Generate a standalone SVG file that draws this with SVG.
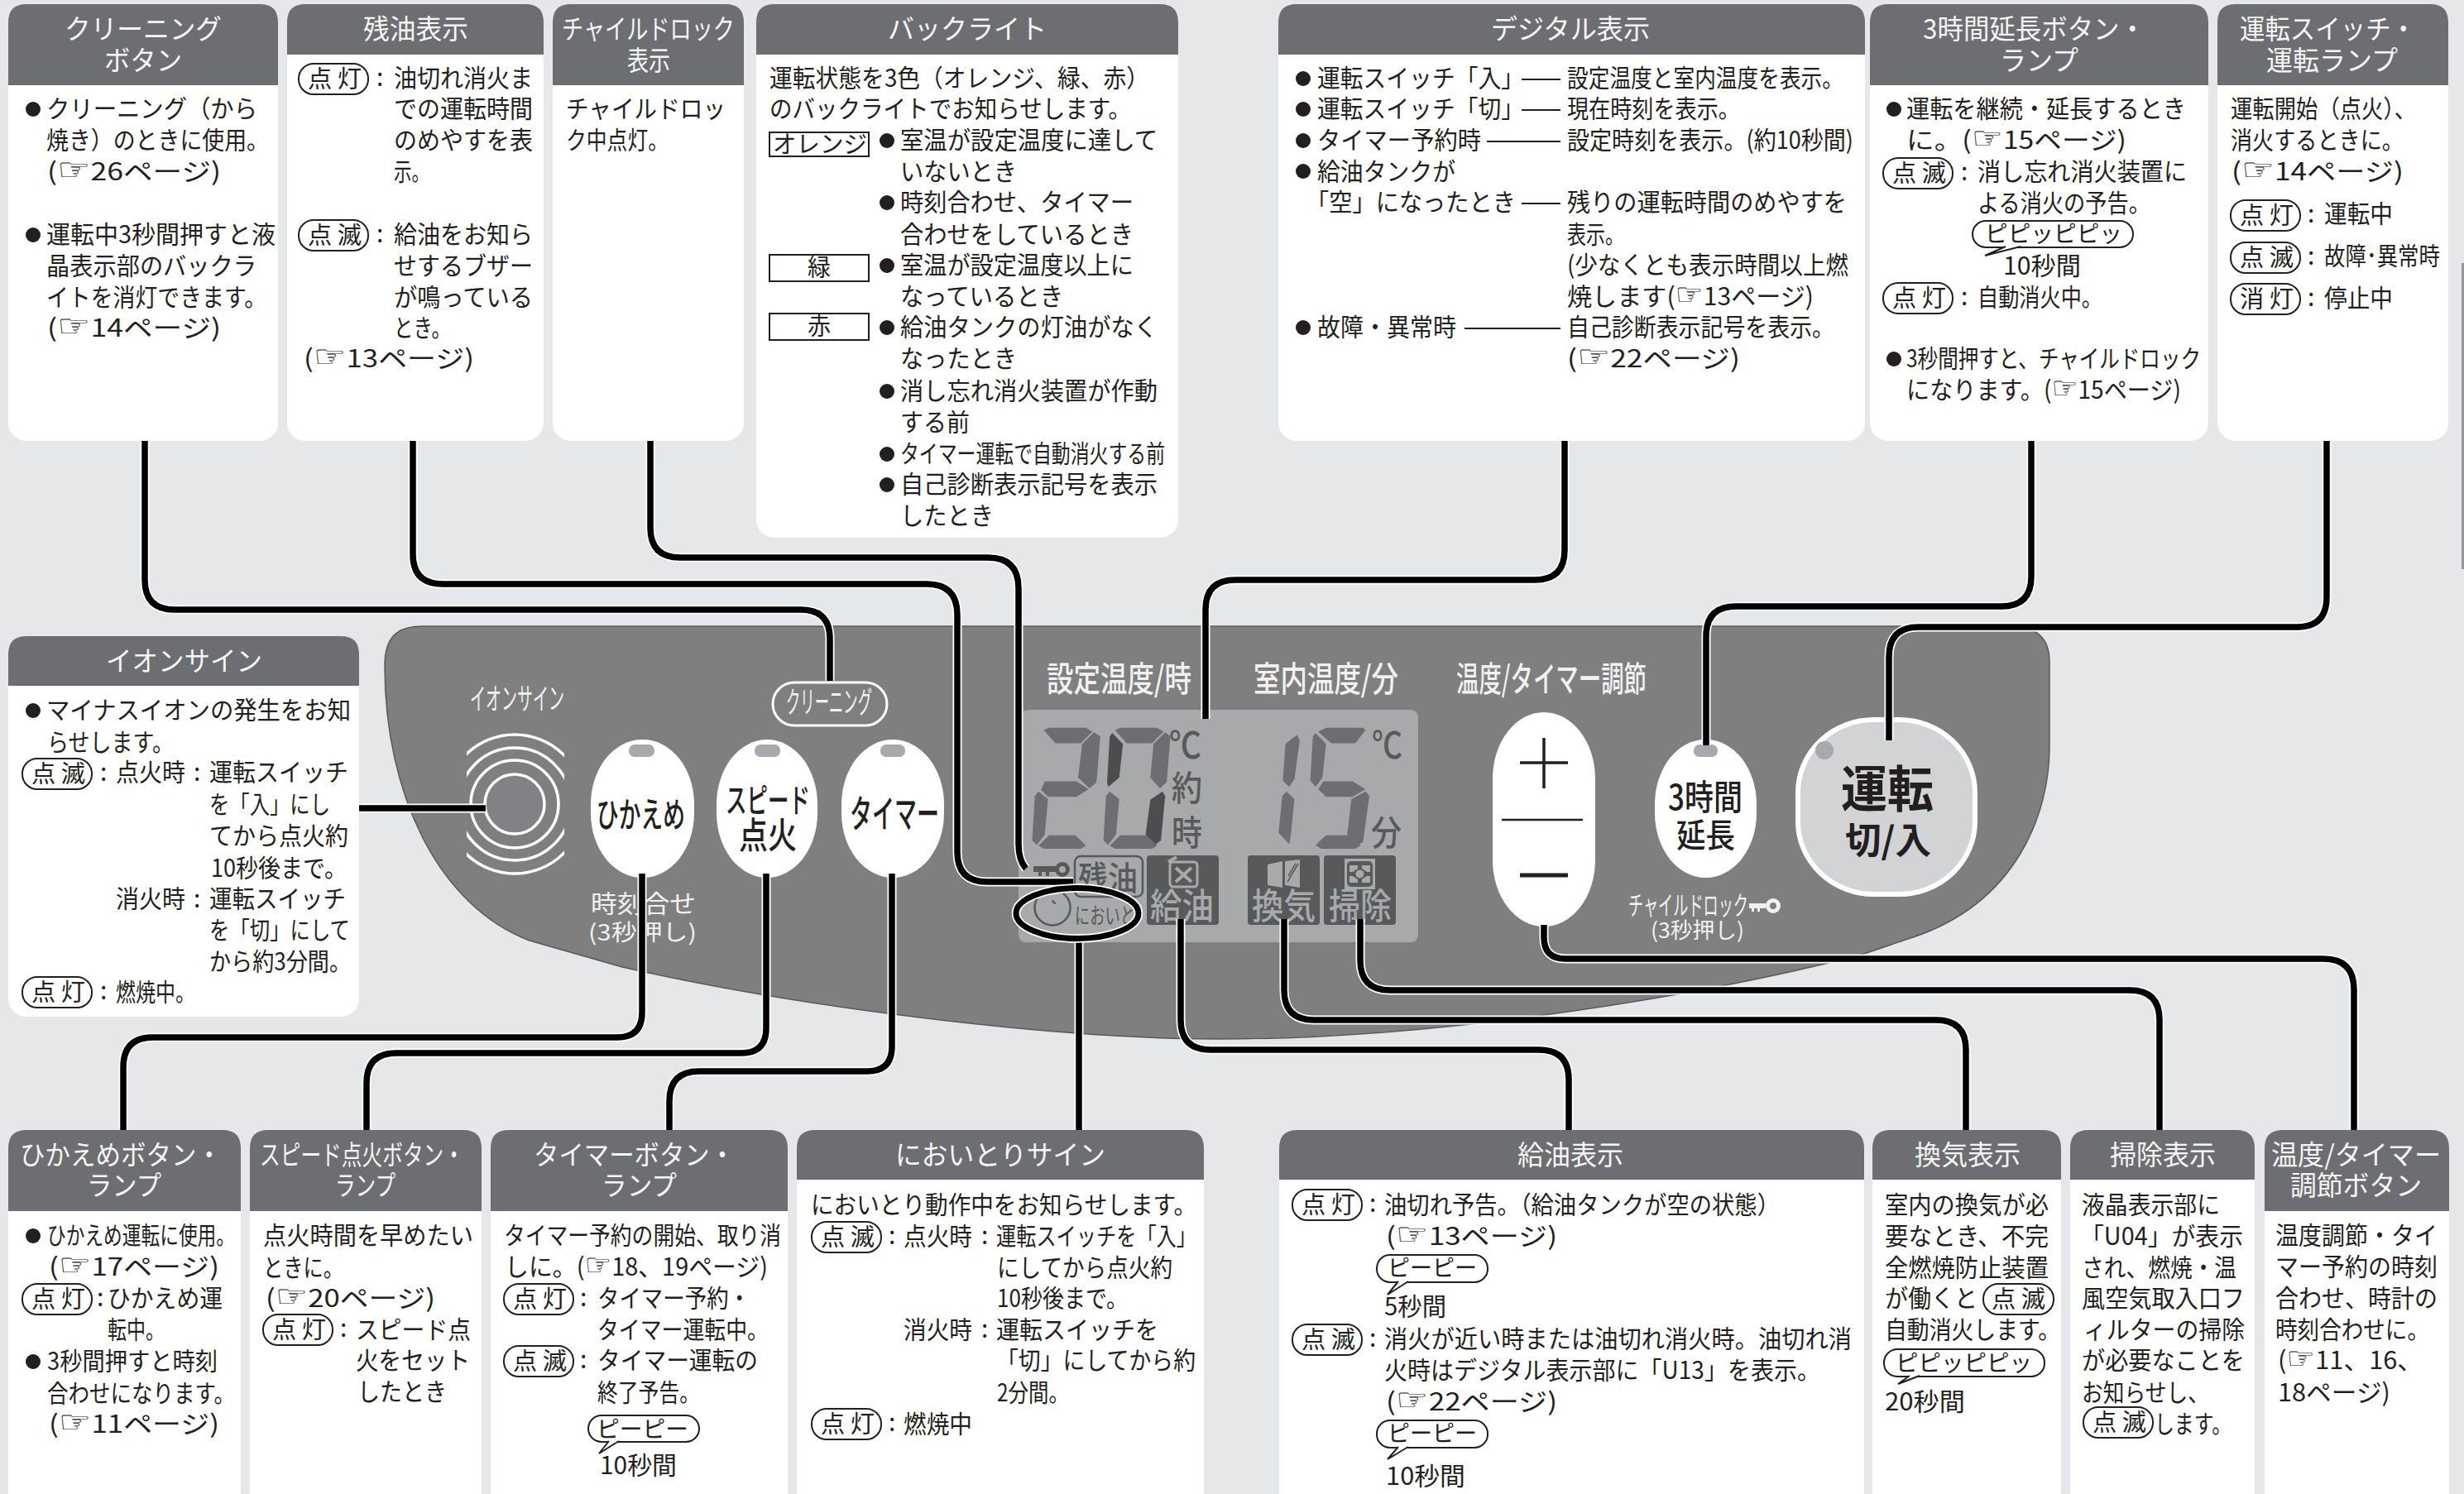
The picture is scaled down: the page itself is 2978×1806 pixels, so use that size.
<svg xmlns="http://www.w3.org/2000/svg" width="2978" height="1806" viewBox="0 0 2978 1806">
<style>
text{font-family:"Noto Sans CJK JP","Noto Sans",sans-serif;fill:#231f20}
.b{font-size:30px;transform:translateY(-1.5px)}
.hd{font-size:38px;font-family:"DejaVu Sans",sans-serif}
.p{font-size:29px}
.s{font-size:28px}
.h{font-size:33px;fill:#f5f5f5}
.w{fill:#f1f1f2}
.bt{font-weight:500}
.lc{fill:#58595b;font-weight:500}
.li{fill:#a7a9ab;font-weight:500}
.pill{fill:#fff;stroke:#231f20;stroke-width:2}
.box{fill:#fff;stroke:#231f20;stroke-width:2}
.dash{stroke:#231f20;stroke-width:2;fill:none}
.tail{fill:#fff;stroke:#231f20;stroke-width:2}
.card{fill:#fff}
.head{fill:#6d6e71}
.btn{fill:#fff}
.lamp{fill:#a7a9ac}
.seg{fill:#6d6e71}
.segd{fill:#4d4d4f}
.ring{fill:none;stroke:#fff;stroke-width:3.5}
.ch{fill:none;stroke:#fff;stroke-width:11}
.cb{fill:none;stroke:#000;stroke-width:7.5}
.dk{fill:#58595b}
.ic{fill:none;stroke:#a7a9ab;stroke-width:3}
.icf{fill:#a7a9ab}
</style>
<defs>
<clipPath id="ionclip"><rect x="564" y="880" width="118" height="190"/></clipPath>
<path id="c1" d="M175,533V701Q175,737 211,737H968Q1003,737 1003,772V823"/>
<path id="c2" d="M499,533V670Q499,706 535,706H1120Q1157,706 1157,743V1030Q1157,1066 1193,1066H1297"/>
<path id="c3" d="M786,533V638Q786,674 822,674H1194Q1231,674 1231,711V1020Q1231,1040 1240,1050"/>
<path id="c4" d="M1891,533V665Q1891,701 1855,701H1493Q1457,701 1457,737V869"/>
<path id="c5" d="M2455,533V697Q2455,733 2419,733H2098Q2062,733 2062,769V901"/>
<path id="c6" d="M2812,533V722Q2812,758 2776,758H2319Q2283,758 2283,794V895"/>
<path id="c7" d="M434,977H587"/>
<path id="c8" d="M776,1056V1224Q776,1254 746,1254H185Q149,1254 149,1290V1366"/>
<path id="c9" d="M926,1056V1243Q926,1273 896,1273H479Q443,1273 443,1309V1366"/>
<path id="c10" d="M1078,1056V1265Q1078,1295 1048,1295H845Q809,1295 809,1331V1366"/>
<path id="c11" d="M1304,1138V1366"/>
<path id="c12" d="M1427,1111V1233Q1427,1269 1463,1269H1860Q1896,1269 1896,1305V1366"/>
<path id="c13" d="M1552,1111V1197Q1552,1233 1588,1233H2340Q2376,1233 2376,1269V1366"/>
<path id="c14" d="M1644,1111V1161Q1644,1197 1680,1197H2574Q2610,1197 2610,1233V1366"/>
<path id="c15" d="M1866,1118V1133Q1866,1159 1892,1159H2808Q2845,1159 2845,1196V1366"/>
</defs>
<rect width="2978" height="1806" fill="#e6e7e9"/>
<rect x="2975" y="318" width="3" height="370" fill="#939598"/>
<g id="body">
<path d="M465,805C465,770 480,757 510,757H2430C2465,757 2477,775 2477,800V903C2477,980 2440,1090 2312,1133L2250,1154C2080,1198 1760,1256 1472,1256C1300,1256 1000,1225 752,1169L640,1137C530,1095 465,960 465,805Z" fill="#7f7f7f" stroke="#58595b" stroke-width="1.5"/>
<text class="w" style="font-size:36px" x="568" y="858" textLength="114" lengthAdjust="spacingAndGlyphs">イオンサイン</text>
<g id="ion-sign"><circle cx="622" cy="972" r="36" fill="#808285" stroke="#fff" stroke-width="3.5"/>
<g clip-path="url(#ionclip)"><circle class="ring" cx="622" cy="972" r="53"/><circle class="ring" cx="622" cy="972" r="68"/><circle class="ring" cx="622" cy="972" r="84"/></g></g>
<g id="cleaning-btn"><rect x="934" y="825" width="138" height="52" rx="26" fill="none" stroke="#fff" stroke-width="3"/>
<text class="w" style="font-size:36px" x="950" y="862" textLength="104" lengthAdjust="spacingAndGlyphs">クリーニング</text></g>
<g id="hikaeme-btn"><rect class="btn" x="714" y="894" width="125" height="167" rx="62" ry="78"/><rect class="lamp" x="760" y="900" width="31" height="15" rx="7"/>
<text class="bt" style="font-size:42px" x="721" y="1000" textLength="107" lengthAdjust="spacingAndGlyphs">ひかえめ</text></g>
<text class="w" style="font-size:30px" x="714" y="1103" textLength="127" lengthAdjust="spacingAndGlyphs">時刻合せ</text>
<text class="w" style="font-size:27px" x="711" y="1137" textLength="131" lengthAdjust="spacingAndGlyphs">(3秒押し)</text>
<g id="speed-btn"><rect class="btn" x="866" y="894" width="122" height="167" rx="61" ry="78"/><rect class="lamp" x="912" y="900" width="31" height="15" rx="7"/>
<text class="bt" style="font-size:40px" x="877" y="982" textLength="102" lengthAdjust="spacingAndGlyphs">スピード</text>
<text class="bt" style="font-size:44px" x="893" y="1026" textLength="70" lengthAdjust="spacingAndGlyphs">点火</text></g>
<g id="timer-btn"><rect class="btn" x="1017" y="894" width="124" height="167" rx="62" ry="78"/><rect class="lamp" x="1064" y="900" width="30" height="15" rx="7"/>
<text class="bt" style="font-size:46px" x="1027" y="1000" textLength="108" lengthAdjust="spacingAndGlyphs">タイマー</text></g>
<text class="w bt" style="font-size:42px" x="1265" y="836" textLength="175" lengthAdjust="spacingAndGlyphs">設定温度/時</text>
<text class="w bt" style="font-size:42px" x="1515" y="836" textLength="175" lengthAdjust="spacingAndGlyphs">室内温度/分</text>
<text class="w bt" style="font-size:42px" x="1760" y="836" textLength="230" lengthAdjust="spacingAndGlyphs">温度/タイマー調節</text>
<g id="lcd">
<path d="M1247,858H1704Q1714,858 1714,868V1129Q1714,1139 1704,1139H1241Q1231,1139 1231,1129V868Q1231,858 1247,858Z" fill="#a7a9ab"/>
<g transform="translate(1000,740) scale(.6378,.3704)">
<polygon class="seg" points="410,385 420,377 490,377 502,390 480,428 432,428"/>
<polygon class="seg" points="505,392 517,405 510,555 497,575 475,540 483,430"/>
<polygon class="seg" points="412,552 472,552 495,578 472,603 418,603 405,580"/>
<polygon class="seg" points="400,585 418,610 412,725 397,760 388,745 393,600"/>
<polygon class="seg" points="400,762 420,728 470,728 490,762 480,772 410,772"/>
<polygon class="seg" points="545,385 555,377 625,377 637,390 615,428 567,428"/>
<polygon class="segd" points="540,395 560,430 553,540 532,570 530,555 535,405"/>
<polygon class="seg" points="640,392 650,405 643,555 630,575 612,540 618,430"/>
<polygon class="seg" points="535,585 553,610 547,725 532,760 523,745 528,600"/>
<polygon class="segd" points="635,585 640,600 632,745 620,760 603,725 612,612"/>
<polygon class="seg" points="535,762 555,728 605,728 625,762 615,772 545,772"/>
<polygon class="seg" points="890,400 895,420 885,545 875,570 863,550 868,430"/>
<polygon class="seg" points="870,585 885,610 878,730 875,757 855,720 862,600"/>
<polygon class="seg" points="930,390 945,377 1015,377 1020,385 1000,428 955,428"/>
<polygon class="seg" points="925,395 945,430 938,540 925,570 915,550 920,405"/>
<polygon class="seg" points="940,552 995,552 1020,578 995,603 945,603 930,578"/>
<polygon class="seg" points="1020,585 1027,600 1015,750 1005,762 985,725 993,610"/>
<polygon class="seg" points="925,760 945,728 995,728 1010,762 1000,772 935,772"/>
</g>
<text class="lc" style="font-size:44px" x="1413" y="917" textLength="39" lengthAdjust="spacingAndGlyphs">℃</text>
<text class="lc" style="font-size:42px" x="1416" y="968" textLength="37" lengthAdjust="spacingAndGlyphs">約</text>
<text class="lc" style="font-size:42px" x="1416" y="1022" textLength="37" lengthAdjust="spacingAndGlyphs">時</text>
<text class="lc" style="font-size:44px" x="1658" y="917" textLength="37" lengthAdjust="spacingAndGlyphs">℃</text>
<text class="lc" style="font-size:42px" x="1657" y="1022" textLength="37" lengthAdjust="spacingAndGlyphs">分</text>
<g id="key-icon"><circle cx="1284" cy="1051" r="6.5" fill="none" stroke="#58595b" stroke-width="5"/><path d="M1249,1047H1277V1054H1268V1059H1264V1054H1259V1059H1255V1054H1249Z" class="dk"/></g>
<g id="zan-yu"><rect x="1299" y="1035" width="82" height="49" rx="7" fill="none" stroke="#58595b" stroke-width="2.5"/>
<text class="lc" style="font-size:40px" x="1303" y="1076" textLength="72" lengthAdjust="spacingAndGlyphs">残油</text></g>
<g id="nioi"><circle cx="1272" cy="1097" r="21.5" fill="none" stroke="#58595b" stroke-width="2.5"/><path d="M1272,1088A5,5 0 0 0 1276,1092" fill="none" stroke="#58595b" stroke-width="2"/>
<text class="lc" style="font-size:27px;font-weight:400" x="1299" y="1117" textLength="73" lengthAdjust="spacingAndGlyphs">においと</text></g>
<g id="kyuyu"><rect class="dk" x="1386" y="1034" width="87" height="84" rx="4"/><rect class="ic" x="1414" y="1042" width="33" height="30" rx="4"/><path class="ic" d="M1421,1049L1440,1066M1440,1049L1421,1066M1412,1042L1422,1036" style="stroke-width:4"/>
<text class="li" style="font-size:43px" x="1390" y="1111" textLength="77" lengthAdjust="spacingAndGlyphs">給油</text></g>
<g id="kanki"><rect class="dk" x="1508" y="1034" width="87" height="84" rx="4"/><polygon class="icf" points="1532,1045 1550,1041 1550,1073 1532,1070"/><polygon class="icf" points="1553,1041 1571,1039 1571,1073 1553,1070"/><path d="M1556,1066L1569,1044M1557,1059L1566,1044" stroke="#58595b" stroke-width="1.5"/>
<text class="li" style="font-size:43px" x="1513" y="1111" textLength="77" lengthAdjust="spacingAndGlyphs">換気</text></g>
<g id="souji"><rect class="dk" x="1600" y="1034" width="87" height="84" rx="4"/><rect class="icf" x="1625" y="1038" width="37" height="37"/><rect class="dk" x="1628" y="1041" width="31" height="31" rx="5"/><circle class="icf" cx="1643.5" cy="1056.5" r="5"/><path class="icf" d="M1631,1046H1641V1050L1635,1054H1631ZM1646,1046H1656V1054H1652L1646,1050ZM1631,1059H1635L1641,1063V1067H1631ZM1656,1059H1652L1646,1063V1067H1656Z"/>
<text class="li" style="font-size:43px" x="1606" y="1111" textLength="76" lengthAdjust="spacingAndGlyphs">掃除</text></g>
</g>
<g id="temp-btn"><rect class="btn" x="1804" y="861" width="124" height="259" rx="62" ry="80"/>
<path d="M1837,922H1895M1866,892V953" stroke="#231f20" stroke-width="3.5" fill="none"/><path d="M1815,991H1913" stroke="#231f20" stroke-width="2.5"/><path d="M1837,1058H1895" stroke="#231f20" stroke-width="5"/></g>
<g id="ext-btn"><rect class="btn" x="2000" y="894" width="123" height="167" rx="61" ry="78"/><rect class="lamp" x="2047" y="900" width="29" height="15" rx="7"/>
<text class="bt" style="font-size:42px" x="2016" y="979" textLength="90" lengthAdjust="spacingAndGlyphs">3時間</text>
<text class="bt" style="font-size:40px" x="2026" y="1024" textLength="71" lengthAdjust="spacingAndGlyphs">延長</text></g>
<text class="w" style="font-size:32px" x="1968" y="1106" textLength="145" lengthAdjust="spacingAndGlyphs">チャイルドロック</text>
<path d="M2114,1092H2134V1098H2127V1102H2124V1098H2120V1102H2117V1098H2114Z" fill="#f1f1f2"/><circle cx="2143" cy="1095" r="6.5" fill="none" stroke="#f1f1f2" stroke-width="5"/>
<text class="w" style="font-size:26px" x="1995" y="1134" textLength="113" lengthAdjust="spacingAndGlyphs">(3秒押し)</text>
<g id="run-btn"><rect x="2173" y="870" width="214" height="211" rx="92" ry="88" fill="#d1d3d4" stroke="#fff" stroke-width="6"/><ellipse cx="2205" cy="907" rx="11" ry="11" fill="#a7a9ac"/>
<text style="font-size:60px;font-weight:700" x="2225" y="976" textLength="112" lengthAdjust="spacingAndGlyphs">運転</text>
<text style="font-size:44px;font-weight:700" x="2230" y="1032" textLength="104" lengthAdjust="spacingAndGlyphs">切/入</text></g>
</g>
<g id="connectors">
<use class="ch" href="#c1"/><use class="ch" href="#c2"/><use class="ch" href="#c3"/><use class="ch" href="#c4"/><use class="ch" href="#c5"/><use class="ch" href="#c6"/><use class="ch" href="#c7"/><use class="ch" href="#c8"/><use class="ch" href="#c9"/><use class="ch" href="#c10"/><use class="ch" href="#c11"/><use class="ch" href="#c12"/><use class="ch" href="#c13"/><use class="ch" href="#c14"/><use class="ch" href="#c15"/>
<use class="cb" href="#c1"/><use class="cb" href="#c2"/><use class="cb" href="#c3"/><use class="cb" href="#c4"/><use class="cb" href="#c5"/><use class="cb" href="#c6"/><use class="cb" href="#c7"/><use class="cb" href="#c8"/><use class="cb" href="#c9"/><use class="cb" href="#c10"/><use class="cb" href="#c11"/><use class="cb" href="#c12"/><use class="cb" href="#c13"/><use class="cb" href="#c14"/><use class="cb" href="#c15"/>
<ellipse cx="1302" cy="1104" rx="74" ry="30.5" fill="none" stroke="#fff" stroke-width="10.5"/>
<ellipse cx="1302" cy="1104" rx="74" ry="30.5" fill="none" stroke="#000" stroke-width="7"/>
</g>

<g id="p-cleaning"><rect class="card" x="10" y="5" width="326" height="528" rx="22"/><path class="head" d="M10,103V27Q10,5 32,5H314Q336,5 336,27V103Z"/>
<text class="h" x="78" y="47" textLength="190" lengthAdjust="spacingAndGlyphs">クリーニング</text>
<text class="h" x="126" y="85" textLength="94" lengthAdjust="spacingAndGlyphs">ボタン</text>
<circle cx="40" cy="132" r="9" fill="#231f20"/><circle cx="40" cy="284" r="9" fill="#231f20"/>
<text class="b" x="56" y="143" textLength="255" lengthAdjust="spacingAndGlyphs">クリーニング（から</text>
<text class="b" x="56" y="181" textLength="269" lengthAdjust="spacingAndGlyphs">焼き）のときに使用。</text>
<text class="b" x="57" y="219" textLength="210" lengthAdjust="spacingAndGlyphs">(<tspan class="hd">☞</tspan>26ページ)</text>
<text class="b" x="56" y="295" textLength="277" lengthAdjust="spacingAndGlyphs">運転中3秒間押すと液</text>
<text class="b" x="56" y="333" textLength="254" lengthAdjust="spacingAndGlyphs">晶表示部のバックラ</text>
<text class="b" x="56" y="371" textLength="266" lengthAdjust="spacingAndGlyphs">イトを消灯できます。</text>
<text class="b" x="57" y="408" textLength="210" lengthAdjust="spacingAndGlyphs">(<tspan class="hd">☞</tspan>14ページ)</text>
</g>
<g id="p-zanyu"><rect class="card" x="347" y="5" width="310" height="528" rx="22"/><path class="head" d="M347,66V27Q347,5 369,5H635Q657,5 657,27V66Z"/>
<text class="h" x="439" y="47" textLength="127" lengthAdjust="spacingAndGlyphs">残油表示</text>
<rect class="pill" x="361" y="77" width="84" height="37" rx="18"/><text class="p" x="372" y="106" textLength="65" lengthAdjust="spacingAndGlyphs">点 灯</text><text class="b" x="455" y="105">:</text>
<text class="b" x="476" y="106" textLength="168" lengthAdjust="spacingAndGlyphs">油切れ消火ま</text>
<text class="b" x="476" y="143" textLength="168" lengthAdjust="spacingAndGlyphs">での運転時間</text>
<text class="b" x="476" y="181" textLength="168" lengthAdjust="spacingAndGlyphs">のめやすを表</text>
<text class="b" x="476" y="219" textLength="43" lengthAdjust="spacingAndGlyphs">示。</text>
<rect class="pill" x="361" y="266" width="84" height="37" rx="18"/><text class="p" x="372" y="295" textLength="65" lengthAdjust="spacingAndGlyphs">点 滅</text><text class="b" x="455" y="294">:</text>
<text class="b" x="476" y="295" textLength="168" lengthAdjust="spacingAndGlyphs">給油をお知ら</text>
<text class="b" x="476" y="333" textLength="168" lengthAdjust="spacingAndGlyphs">せするブザー</text>
<text class="b" x="476" y="371" textLength="168" lengthAdjust="spacingAndGlyphs">が鳴っている</text>
<text class="b" x="476" y="408" textLength="69" lengthAdjust="spacingAndGlyphs">とき。</text>
<text class="b" x="367" y="445" textLength="206" lengthAdjust="spacingAndGlyphs">(<tspan class="hd">☞</tspan>13ページ)</text>
</g>
<g id="p-child"><rect class="card" x="668" y="5" width="231" height="528" rx="22"/><path class="head" d="M668,103V27Q668,5 690,5H877Q899,5 899,27V103Z"/>
<text class="h" x="679" y="47" textLength="209" lengthAdjust="spacingAndGlyphs">チャイルドロック</text>
<text class="h" x="758" y="85" textLength="52" lengthAdjust="spacingAndGlyphs">表示</text>
<text class="b" x="684" y="143" textLength="193" lengthAdjust="spacingAndGlyphs">チャイルドロッ</text>
<text class="b" x="684" y="181" textLength="124" lengthAdjust="spacingAndGlyphs">ク中点灯。</text>
</g>
<g id="p-back"><rect class="card" x="914" y="5" width="510" height="645" rx="22"/><path class="head" d="M914,66V27Q914,5 936,5H1402Q1424,5 1424,27V66Z"/>
<text class="h" x="1073" y="47" textLength="192" lengthAdjust="spacingAndGlyphs">バックライト</text>
<text class="b" x="930" y="106" textLength="459" lengthAdjust="spacingAndGlyphs">運転状態を3色（オレンジ、緑、赤）</text>
<text class="b" x="930" y="143" textLength="437" lengthAdjust="spacingAndGlyphs">のバックライトでお知らせします。</text>
<rect class="box" x="930" y="160" width="120" height="29"/><text class="p" x="934" y="185" textLength="114" lengthAdjust="spacingAndGlyphs">オレンジ</text>
<rect class="box" x="930" y="308" width="120" height="32"/><text class="p" x="976" y="334" textLength="28" lengthAdjust="spacingAndGlyphs">緑</text>
<rect class="box" x="930" y="379" width="120" height="32"/><text class="p" x="976" y="405" textLength="28" lengthAdjust="spacingAndGlyphs">赤</text>
<g fill="#231f20"><circle cx="1072" cy="170" r="9"/><circle cx="1072" cy="245" r="9"/><circle cx="1072" cy="321" r="9"/><circle cx="1072" cy="396" r="9"/><circle cx="1072" cy="473" r="9"/><circle cx="1072" cy="549" r="9"/><circle cx="1072" cy="586" r="9"/></g>
<text class="b" x="1088" y="181" textLength="311" lengthAdjust="spacingAndGlyphs">室温が設定温度に達して</text>
<text class="b" x="1088" y="219" textLength="141" lengthAdjust="spacingAndGlyphs">いないとき</text>
<text class="b" x="1088" y="256" textLength="282" lengthAdjust="spacingAndGlyphs">時刻合わせ、タイマー</text>
<text class="b" x="1088" y="295" textLength="282" lengthAdjust="spacingAndGlyphs">合わせをしているとき</text>
<text class="b" x="1088" y="332" textLength="282" lengthAdjust="spacingAndGlyphs">室温が設定温度以上に</text>
<text class="b" x="1088" y="370" textLength="197" lengthAdjust="spacingAndGlyphs">なっているとき</text>
<text class="b" x="1088" y="407" textLength="311" lengthAdjust="spacingAndGlyphs">給油タンクの灯油がなく</text>
<text class="b" x="1088" y="445" textLength="141" lengthAdjust="spacingAndGlyphs">なったとき</text>
<text class="b" x="1088" y="484" textLength="311" lengthAdjust="spacingAndGlyphs">消し忘れ消火装置が作動</text>
<text class="b" x="1088" y="522" textLength="84" lengthAdjust="spacingAndGlyphs">する前</text>
<text class="b" x="1088" y="560" textLength="320" lengthAdjust="spacingAndGlyphs">タイマー運転で自動消火する前</text>
<text class="b" x="1088" y="597" textLength="311" lengthAdjust="spacingAndGlyphs">自己診断表示記号を表示</text>
<text class="b" x="1088" y="635" textLength="113" lengthAdjust="spacingAndGlyphs">したとき</text>
</g>
<g id="p-digital"><rect class="card" x="1545" y="5" width="709" height="528" rx="22"/><path class="head" d="M1545,66V27Q1545,5 1567,5H2232Q2254,5 2254,27V66Z"/>
<text class="h" x="1802" y="47" textLength="192" lengthAdjust="spacingAndGlyphs">デジタル表示</text>
<g fill="#231f20"><circle cx="1575" cy="95" r="9"/><circle cx="1575" cy="132" r="9"/><circle cx="1575" cy="170" r="9"/><circle cx="1575" cy="207" r="9"/><circle cx="1575" cy="396" r="9"/></g>
<path class="dash" d="M1839,96H1886M1839,133H1886M1797,171H1886M1839,246H1886M1770,397H1886"/>
<text class="b" x="1592" y="106" textLength="250" lengthAdjust="spacingAndGlyphs">運転スイッチ「入」</text>
<text class="b" x="1894" y="106" textLength="334" lengthAdjust="spacingAndGlyphs">設定温度と室内温度を表示。</text>
<text class="b" x="1592" y="143" textLength="250" lengthAdjust="spacingAndGlyphs">運転スイッチ「切」</text>
<text class="b" x="1894" y="143" textLength="209" lengthAdjust="spacingAndGlyphs">現在時刻を表示。</text>
<text class="b" x="1592" y="181" textLength="198" lengthAdjust="spacingAndGlyphs">タイマー予約時</text>
<text class="b" x="1894" y="181" textLength="346" lengthAdjust="spacingAndGlyphs">設定時刻を表示。(約10秒間)</text>
<text class="b" x="1592" y="219" textLength="167" lengthAdjust="spacingAndGlyphs">給油タンクが</text>
<text class="b" x="1578" y="256" textLength="254" lengthAdjust="spacingAndGlyphs">「空」になったとき</text>
<text class="b" x="1894" y="256" textLength="338" lengthAdjust="spacingAndGlyphs">残りの運転時間のめやすを</text>
<text class="b" x="1894" y="295" textLength="69" lengthAdjust="spacingAndGlyphs">表示。</text>
<text class="b" x="1894" y="332" textLength="340" lengthAdjust="spacingAndGlyphs">(少なくとも表示時間以上燃</text>
<text class="b" x="1894" y="370" textLength="298" lengthAdjust="spacingAndGlyphs">焼します(<tspan class="hd">☞</tspan>13ページ)</text>
<text class="b" x="1592" y="407" textLength="168" lengthAdjust="spacingAndGlyphs">故障・異常時</text>
<text class="b" x="1894" y="407" textLength="323" lengthAdjust="spacingAndGlyphs">自己診断表示記号を表示。</text>
<text class="b" x="1894" y="445" textLength="209" lengthAdjust="spacingAndGlyphs">(<tspan class="hd">☞</tspan>22ページ)</text>
</g>
<g id="p-ext"><rect class="card" x="2260" y="5" width="409" height="528" rx="22"/><path class="head" d="M2260,103V27Q2260,5 2282,5H2647Q2669,5 2669,27V103Z"/>
<text class="h" x="2324" y="47" textLength="269" lengthAdjust="spacingAndGlyphs">3時間延長ボタン・</text>
<text class="h" x="2417" y="85" textLength="95" lengthAdjust="spacingAndGlyphs">ランプ</text>
<circle cx="2289" cy="132" r="9" fill="#231f20"/><circle cx="2289" cy="434" r="9" fill="#231f20"/>
<text class="b" x="2304" y="143" textLength="338" lengthAdjust="spacingAndGlyphs">運転を継続・延長するとき</text>
<text class="b" x="2304" y="181" textLength="266" lengthAdjust="spacingAndGlyphs">に。(<tspan class="hd">☞</tspan>15ページ)</text>
<rect class="pill" x="2276" y="191" width="84" height="37" rx="18"/><text class="p" x="2287" y="220" textLength="65" lengthAdjust="spacingAndGlyphs">点 滅</text><text class="b" x="2370" y="219">:</text>
<text class="b" x="2390" y="219" textLength="253" lengthAdjust="spacingAndGlyphs">消し忘れ消火装置に</text>
<text class="b" x="2390" y="257" textLength="209" lengthAdjust="spacingAndGlyphs">よる消火の予告。</text>
<rect class="pill" x="2384" y="267" width="194" height="32" rx="16"/><path class="tail" d="M2424,298L2399,309L2442,298"/>
<text class="s" x="2399" y="293" textLength="166" lengthAdjust="spacingAndGlyphs">ピピッピピッ</text>
<text class="b" x="2421" y="333" textLength="94" lengthAdjust="spacingAndGlyphs">10秒間</text>
<rect class="pill" x="2276" y="342" width="84" height="37" rx="18"/><text class="p" x="2287" y="371" textLength="65" lengthAdjust="spacingAndGlyphs">点 灯</text><text class="b" x="2370" y="370">:</text>
<text class="b" x="2390" y="371" textLength="151" lengthAdjust="spacingAndGlyphs">自動消火中。</text>
<text class="b" x="2304" y="445" textLength="356" lengthAdjust="spacingAndGlyphs">3秒間押すと、チャイルドロック</text>
<text class="b" x="2304" y="483" textLength="332" lengthAdjust="spacingAndGlyphs">になります。(<tspan class="hd">☞</tspan>15ページ)</text>
</g>
<g id="p-run"><rect class="card" x="2680" y="5" width="279" height="528" rx="22"/><path class="head" d="M2680,103V27Q2680,5 2702,5H2937Q2959,5 2959,27V103Z"/>
<text class="h" x="2707" y="47" textLength="213" lengthAdjust="spacingAndGlyphs">運転スイッチ・</text>
<text class="h" x="2739" y="85" textLength="159" lengthAdjust="spacingAndGlyphs">運転ランプ</text>
<text class="b" x="2696" y="143" textLength="224" lengthAdjust="spacingAndGlyphs">運転開始（点火）、</text>
<text class="b" x="2696" y="181" textLength="209" lengthAdjust="spacingAndGlyphs">消火するときに。</text>
<text class="b" x="2697" y="219" textLength="208" lengthAdjust="spacingAndGlyphs">(<tspan class="hd">☞</tspan>14ページ)</text>
<rect class="pill" x="2696" y="242" width="84" height="37" rx="18"/><text class="p" x="2707" y="271" textLength="65" lengthAdjust="spacingAndGlyphs">点 灯</text><text class="b" x="2789" y="270">:</text>
<text class="b" x="2809" y="270" textLength="83" lengthAdjust="spacingAndGlyphs">運転中</text>
<rect class="pill" x="2696" y="293" width="84" height="37" rx="18"/><text class="p" x="2707" y="322" textLength="65" lengthAdjust="spacingAndGlyphs">点 滅</text><text class="b" x="2789" y="321">:</text>
<text class="b" x="2809" y="321" textLength="140" lengthAdjust="spacingAndGlyphs">故障･異常時</text>
<rect class="pill" x="2696" y="343" width="84" height="37" rx="18"/><text class="p" x="2707" y="372" textLength="65" lengthAdjust="spacingAndGlyphs">消 灯</text><text class="b" x="2789" y="371">:</text>
<text class="b" x="2809" y="372" textLength="83" lengthAdjust="spacingAndGlyphs">停止中</text>
</g>
<g id="p-ion"><rect class="card" x="10" y="769" width="424" height="460" rx="22"/><path class="head" d="M10,829V791Q10,769 32,769H412Q434,769 434,791V829Z"/>
<text class="h" x="128" y="811" textLength="189" lengthAdjust="spacingAndGlyphs">イオンサイン</text>
<circle cx="40" cy="859" r="9" fill="#231f20"/>
<text class="b" x="56" y="870" textLength="368" lengthAdjust="spacingAndGlyphs">マイナスイオンの発生をお知</text>
<text class="b" x="57" y="909" textLength="153" lengthAdjust="spacingAndGlyphs">らせします。</text>
<rect class="pill" x="27" y="917" width="84" height="37" rx="18"/><text class="p" x="38" y="946" textLength="65" lengthAdjust="spacingAndGlyphs">点 滅</text><text class="b" x="121" y="945">:</text>
<text class="b" x="140" y="945" textLength="84" lengthAdjust="spacingAndGlyphs">点火時</text><text class="b" x="234" y="945">:</text>
<text class="b" x="253" y="945" textLength="168" lengthAdjust="spacingAndGlyphs">運転スイッチ</text>
<text class="b" x="253" y="984" textLength="146" lengthAdjust="spacingAndGlyphs">を「入」にし</text>
<text class="b" x="253" y="1022" textLength="168" lengthAdjust="spacingAndGlyphs">てから点火約</text>
<text class="b" x="255" y="1061" textLength="164" lengthAdjust="spacingAndGlyphs">10秒後まで。</text>
<text class="b" x="140" y="1098" textLength="84" lengthAdjust="spacingAndGlyphs">消火時</text><text class="b" x="234" y="1098">:</text>
<text class="b" x="253" y="1098" textLength="165" lengthAdjust="spacingAndGlyphs">運転スイッチ</text>
<text class="b" x="253" y="1136" textLength="170" lengthAdjust="spacingAndGlyphs">を「切」にして</text>
<text class="b" x="253" y="1174" textLength="171" lengthAdjust="spacingAndGlyphs">から約3分間。</text>
<rect class="pill" x="27" y="1181" width="84" height="37" rx="18"/><text class="p" x="38" y="1210" textLength="65" lengthAdjust="spacingAndGlyphs">点 灯</text><text class="b" x="121" y="1209">:</text>
<text class="b" x="140" y="1211" textLength="96" lengthAdjust="spacingAndGlyphs">燃焼中。</text>
</g>
<g id="p-hikaeme"><rect class="card" x="10" y="1366" width="281" height="460" rx="22"/><path class="head" d="M10,1464V1388Q10,1366 32,1366H269Q291,1366 291,1388V1464Z"/>
<text class="h" x="24" y="1408" textLength="244" lengthAdjust="spacingAndGlyphs">ひかえめボタン・</text>
<text class="h" x="105" y="1445" textLength="90" lengthAdjust="spacingAndGlyphs">ランプ</text>
<circle cx="40" cy="1494" r="9" fill="#231f20"/><circle cx="40" cy="1646" r="9" fill="#231f20"/>
<text class="b" x="57" y="1505" textLength="227" lengthAdjust="spacingAndGlyphs">ひかえめ運転に使用。</text>
<text class="b" x="59" y="1543" textLength="206" lengthAdjust="spacingAndGlyphs">(<tspan class="hd">☞</tspan>17ページ)</text>
<rect class="pill" x="27" y="1552" width="84" height="37" rx="18"/><text class="p" x="38" y="1581" textLength="65" lengthAdjust="spacingAndGlyphs">点 灯</text><text class="b" x="117" y="1580">:</text>
<text class="b" x="130" y="1581" textLength="139" lengthAdjust="spacingAndGlyphs">ひかえめ運</text>
<text class="b" x="130" y="1619" textLength="69" lengthAdjust="spacingAndGlyphs">転中。</text>
<text class="b" x="57" y="1657" textLength="206" lengthAdjust="spacingAndGlyphs">3秒間押すと時刻</text>
<text class="b" x="57" y="1696" textLength="227" lengthAdjust="spacingAndGlyphs">合わせになります。</text>
<text class="b" x="59" y="1733" textLength="206" lengthAdjust="spacingAndGlyphs">(<tspan class="hd">☞</tspan>11ページ)</text>
</g>
<g id="p-speed"><rect class="card" x="302" y="1366" width="280" height="460" rx="22"/><path class="head" d="M302,1464V1388Q302,1366 324,1366H560Q582,1366 582,1388V1464Z"/>
<text class="h" x="314" y="1408" textLength="247" lengthAdjust="spacingAndGlyphs">スピード点火ボタン・</text>
<text class="h" x="405" y="1445" textLength="73" lengthAdjust="spacingAndGlyphs">ランプ</text>
<text class="b" x="318" y="1505" textLength="254" lengthAdjust="spacingAndGlyphs">点火時間を早めたい</text>
<text class="b" x="318" y="1544" textLength="97" lengthAdjust="spacingAndGlyphs">ときに。</text>
<text class="b" x="321" y="1581" textLength="205" lengthAdjust="spacingAndGlyphs">(<tspan class="hd">☞</tspan>20ページ)</text>
<rect class="pill" x="318" y="1589" width="84" height="37" rx="18"/><text class="p" x="329" y="1618" textLength="65" lengthAdjust="spacingAndGlyphs">点 灯</text><text class="b" x="411" y="1617">:</text>
<text class="b" x="430" y="1619" textLength="139" lengthAdjust="spacingAndGlyphs">スピード点</text>
<text class="b" x="430" y="1656" textLength="138" lengthAdjust="spacingAndGlyphs">火をセット</text>
<text class="b" x="432" y="1694" textLength="108" lengthAdjust="spacingAndGlyphs">したとき</text>
</g>
<g id="p-timer"><rect class="card" x="593" y="1366" width="359" height="460" rx="22"/><path class="head" d="M593,1464V1388Q593,1366 615,1366H930Q952,1366 952,1388V1464Z"/>
<text class="h" x="645" y="1408" textLength="243" lengthAdjust="spacingAndGlyphs">タイマーボタン・</text>
<text class="h" x="727" y="1445" textLength="91" lengthAdjust="spacingAndGlyphs">ランプ</text>
<text class="b" x="609" y="1505" textLength="335" lengthAdjust="spacingAndGlyphs">タイマー予約の開始、取り消</text>
<text class="b" x="610" y="1543" textLength="318" lengthAdjust="spacingAndGlyphs">しに。(<tspan class="hd">☞</tspan>18、19ページ)</text>
<rect class="pill" x="609" y="1552" width="84" height="37" rx="18"/><text class="p" x="620" y="1581" textLength="65" lengthAdjust="spacingAndGlyphs">点 灯</text><text class="b" x="701" y="1580">:</text>
<text class="b" x="722" y="1581" textLength="185" lengthAdjust="spacingAndGlyphs">タイマー予約・</text>
<text class="b" x="722" y="1619" textLength="207" lengthAdjust="spacingAndGlyphs">タイマー運転中。</text>
<rect class="pill" x="609" y="1627" width="84" height="37" rx="18"/><text class="p" x="620" y="1656" textLength="65" lengthAdjust="spacingAndGlyphs">点 滅</text><text class="b" x="701" y="1655">:</text>
<text class="b" x="722" y="1656" textLength="194" lengthAdjust="spacingAndGlyphs">タイマー運転の</text>
<text class="b" x="722" y="1695" textLength="124" lengthAdjust="spacingAndGlyphs">終了予告。</text>
<rect class="pill" x="711" y="1711" width="134" height="32" rx="16"/><path class="tail" d="M736,1742L724,1757L748,1742"/>
<text class="s" x="721" y="1738" textLength="111" lengthAdjust="spacingAndGlyphs">ピーピー</text>
<text class="b" x="725" y="1783" textLength="93" lengthAdjust="spacingAndGlyphs">10秒間</text>
</g>
<g id="p-nioi"><rect class="card" x="963" y="1366" width="492" height="460" rx="22"/><path class="head" d="M963,1426V1388Q963,1366 985,1366H1433Q1455,1366 1455,1388V1426Z"/>
<text class="h" x="1082" y="1408" textLength="254" lengthAdjust="spacingAndGlyphs">においとりサイン</text>
<text class="b" x="980" y="1468" textLength="466" lengthAdjust="spacingAndGlyphs">においとり動作中をお知らせします。</text>
<rect class="pill" x="981" y="1477" width="84" height="37" rx="18"/><text class="p" x="992" y="1506" textLength="65" lengthAdjust="spacingAndGlyphs">点 滅</text><text class="b" x="1074" y="1505">:</text>
<text class="b" x="1092" y="1506" textLength="83" lengthAdjust="spacingAndGlyphs">点火時</text><text class="b" x="1186" y="1505">:</text>
<text class="b" x="1204" y="1506" textLength="242" lengthAdjust="spacingAndGlyphs">運転スイッチを「入」</text>
<text class="b" x="1205" y="1544" textLength="212" lengthAdjust="spacingAndGlyphs">にしてから点火約</text>
<text class="b" x="1205" y="1581" textLength="158" lengthAdjust="spacingAndGlyphs">10秒後まで。</text>
<text class="b" x="1092" y="1619" textLength="83" lengthAdjust="spacingAndGlyphs">消火時</text><text class="b" x="1186" y="1618">:</text>
<text class="b" x="1204" y="1619" textLength="196" lengthAdjust="spacingAndGlyphs">運転スイッチを</text>
<text class="b" x="1204" y="1656" textLength="241" lengthAdjust="spacingAndGlyphs">「切」にしてから約</text>
<text class="b" x="1205" y="1695" textLength="87" lengthAdjust="spacingAndGlyphs">2分間。</text>
<rect class="pill" x="981" y="1703" width="84" height="37" rx="18"/><text class="p" x="992" y="1732" textLength="65" lengthAdjust="spacingAndGlyphs">点 灯</text><text class="b" x="1074" y="1731">:</text>
<text class="b" x="1092" y="1733" textLength="83" lengthAdjust="spacingAndGlyphs">燃焼中</text>
</g>
<g id="p-kyuyu"><rect class="card" x="1546" y="1366" width="707" height="460" rx="22"/><path class="head" d="M1546,1426V1388Q1546,1366 1568,1366H2231Q2253,1366 2253,1388V1426Z"/>
<text class="h" x="1834" y="1408" textLength="128" lengthAdjust="spacingAndGlyphs">給油表示</text>
<rect class="pill" x="1562" y="1438" width="84" height="37" rx="18"/><text class="p" x="1573" y="1467" textLength="65" lengthAdjust="spacingAndGlyphs">点 灯</text><text class="b" x="1655" y="1466">:</text>
<text class="b" x="1673" y="1468" textLength="478" lengthAdjust="spacingAndGlyphs">油切れ予告。（給油タンクが空の状態）</text>
<text class="b" x="1675" y="1506" textLength="207" lengthAdjust="spacingAndGlyphs">(<tspan class="hd">☞</tspan>13ページ)</text>
<rect class="pill" x="1664" y="1517" width="134" height="33" rx="16"/><path class="tail" d="M1690,1549L1677,1565L1702,1549"/>
<text class="s" x="1677" y="1543" textLength="108" lengthAdjust="spacingAndGlyphs">ピーピー</text>
<text class="b" x="1673" y="1591" textLength="75" lengthAdjust="spacingAndGlyphs">5秒間</text>
<rect class="pill" x="1562" y="1601" width="84" height="37" rx="18"/><text class="p" x="1573" y="1630" textLength="65" lengthAdjust="spacingAndGlyphs">点 滅</text><text class="b" x="1655" y="1629">:</text>
<text class="b" x="1673" y="1630" textLength="565" lengthAdjust="spacingAndGlyphs">消火が近い時または油切れ消火時。油切れ消</text>
<text class="b" x="1673" y="1668" textLength="527" lengthAdjust="spacingAndGlyphs">火時はデジタル表示部に「U13」を表示。</text>
<text class="b" x="1675" y="1706" textLength="207" lengthAdjust="spacingAndGlyphs">(<tspan class="hd">☞</tspan>22ページ)</text>
<rect class="pill" x="1664" y="1717" width="134" height="33" rx="16"/><path class="tail" d="M1690,1749L1677,1764L1702,1749"/>
<text class="s" x="1677" y="1743" textLength="108" lengthAdjust="spacingAndGlyphs">ピーピー</text>
<text class="b" x="1675" y="1796" textLength="96" lengthAdjust="spacingAndGlyphs">10秒間</text>
</g>
<g id="p-kanki"><rect class="card" x="2263" y="1366" width="228" height="460" rx="22"/><path class="head" d="M2263,1426V1388Q2263,1366 2285,1366H2469Q2491,1366 2491,1388V1426Z"/>
<text class="h" x="2314" y="1408" textLength="128" lengthAdjust="spacingAndGlyphs">換気表示</text>
<text class="b" x="2278" y="1468" textLength="198" lengthAdjust="spacingAndGlyphs">室内の換気が必</text>
<text class="b" x="2278" y="1506" textLength="198" lengthAdjust="spacingAndGlyphs">要なとき、不完</text>
<text class="b" x="2278" y="1544" textLength="198" lengthAdjust="spacingAndGlyphs">全燃焼防止装置</text>
<text class="b" x="2278" y="1581" textLength="112" lengthAdjust="spacingAndGlyphs">が働くと</text>
<rect class="pill" x="2397" y="1552" width="85" height="37" rx="18"/><text class="p" x="2407" y="1581" textLength="65" lengthAdjust="spacingAndGlyphs">点 滅</text>
<text class="b" x="2278" y="1619" textLength="212" lengthAdjust="spacingAndGlyphs">自動消火します。</text>
<rect class="pill" x="2277" y="1631" width="194" height="33" rx="16"/><path class="tail" d="M2308,1663L2294,1673L2320,1663"/>
<text class="s" x="2291" y="1658" textLength="165" lengthAdjust="spacingAndGlyphs">ピピッピピッ</text>
<text class="b" x="2278" y="1706" textLength="97" lengthAdjust="spacingAndGlyphs">20秒間</text>
</g>
<g id="p-souji"><rect class="card" x="2502" y="1366" width="223" height="460" rx="22"/><path class="head" d="M2502,1426V1388Q2502,1366 2524,1366H2703Q2725,1366 2725,1388V1426Z"/>
<text class="h" x="2550" y="1408" textLength="128" lengthAdjust="spacingAndGlyphs">掃除表示</text>
<text class="b" x="2516" y="1468" textLength="167" lengthAdjust="spacingAndGlyphs">液晶表示部に</text>
<text class="b" x="2514" y="1506" textLength="197" lengthAdjust="spacingAndGlyphs">「U04」が表示</text>
<text class="b" x="2516" y="1544" textLength="187" lengthAdjust="spacingAndGlyphs">され、燃焼・温</text>
<text class="b" x="2516" y="1581" textLength="197" lengthAdjust="spacingAndGlyphs">風空気取入口フ</text>
<text class="b" x="2518" y="1619" textLength="195" lengthAdjust="spacingAndGlyphs">ィルターの掃除</text>
<text class="b" x="2516" y="1656" textLength="197" lengthAdjust="spacingAndGlyphs">が必要なことを</text>
<text class="b" x="2516" y="1695" textLength="154" lengthAdjust="spacingAndGlyphs">お知らせし、</text>
<rect class="pill" x="2518" y="1701" width="84" height="37" rx="18"/><text class="p" x="2529" y="1730" textLength="65" lengthAdjust="spacingAndGlyphs">点 滅</text>
<text class="b" x="2604" y="1733" textLength="93" lengthAdjust="spacingAndGlyphs">します。</text>
</g>
<g id="p-temp"><rect class="card" x="2737" y="1366" width="223" height="460" rx="22"/><path class="head" d="M2737,1464V1388Q2737,1366 2759,1366H2938Q2960,1366 2960,1388V1464Z"/>
<text class="h" x="2745" y="1408" textLength="205" lengthAdjust="spacingAndGlyphs">温度/タイマー</text>
<text class="h" x="2768" y="1445" textLength="159" lengthAdjust="spacingAndGlyphs">調節ボタン</text>
<text class="b" x="2750" y="1505" textLength="196" lengthAdjust="spacingAndGlyphs">温度調節・タイ</text>
<text class="b" x="2750" y="1543" textLength="196" lengthAdjust="spacingAndGlyphs">マー予約の時刻</text>
<text class="b" x="2750" y="1581" textLength="196" lengthAdjust="spacingAndGlyphs">合わせ、時計の</text>
<text class="b" x="2750" y="1619" textLength="186" lengthAdjust="spacingAndGlyphs">時刻合わせに。</text>
<text class="b" x="2753" y="1656" textLength="175" lengthAdjust="spacingAndGlyphs">(<tspan class="hd">☞</tspan>11、16、</text>
<text class="b" x="2753" y="1695" textLength="136" lengthAdjust="spacingAndGlyphs">18ページ)</text>
</g>
</svg>
